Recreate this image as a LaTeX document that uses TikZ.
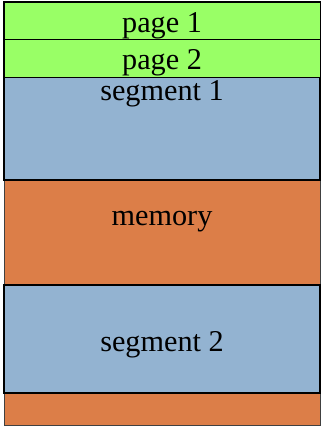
\documentclass[tikz,border=0pt]{standalone}
\usepackage{fontspec}
\setmainfont{Liberation Serif}
\definecolor{pagegreen}{RGB}{153,255,102}
\definecolor{segblue}{RGB}{147,179,209}
\definecolor{memorange}{RGB}{220,126,72}
\definecolor{edge}{gray}{0.25}
\begin{document}
\begin{tikzpicture}[
  membox/.style={draw=edge, fill=memorange, line width=.6pt, minimum width=7.9cm,
                 inner sep=0pt},
  segbox/.style={draw=black, fill=segblue, line width=1.6pt, minimum width=7.9cm,
                 inner sep=0pt},
  pagebox/.style={draw=black, fill=pagegreen, line width=.5pt, minimum width=7.9cm,
                  inner sep=0pt},
  lbl/.style={anchor=base, font=\fontsize{21.5}{25}\selectfont, inner sep=0pt},
]
\useasboundingbox (0,0) rectangle (8.075,-10.75);
\node[membox, minimum height=10.575cm] (mem) at (4.05,-5.3375) {};
\node[segbox, minimum height=4.45cm] (seg1) at (4.05,-2.275) {};
\node[segbox, minimum height=2.7cm] (seg2) at (4.05,-8.475) {};
\node[pagebox, minimum height=0.925cm] (pg1) at (4.05,-0.5125) {};
\node[pagebox, minimum height=0.95cm] (pg2) at (4.05,-1.45) {};

\node[lbl] (pg1txt) at (4.05,-0.825) {page 1};
\node[lbl] (pg2txt) at (4.05,-1.75) {page 2};
\node[lbl] (seg1txt) at (4.05,-2.525) {segment 1};
\node[lbl] (memtxt) at (4.05,-5.625) {memory};
\node[lbl] (seg2txt) at (4.05,-8.775) {segment 2};
\end{tikzpicture}
\end{document}
